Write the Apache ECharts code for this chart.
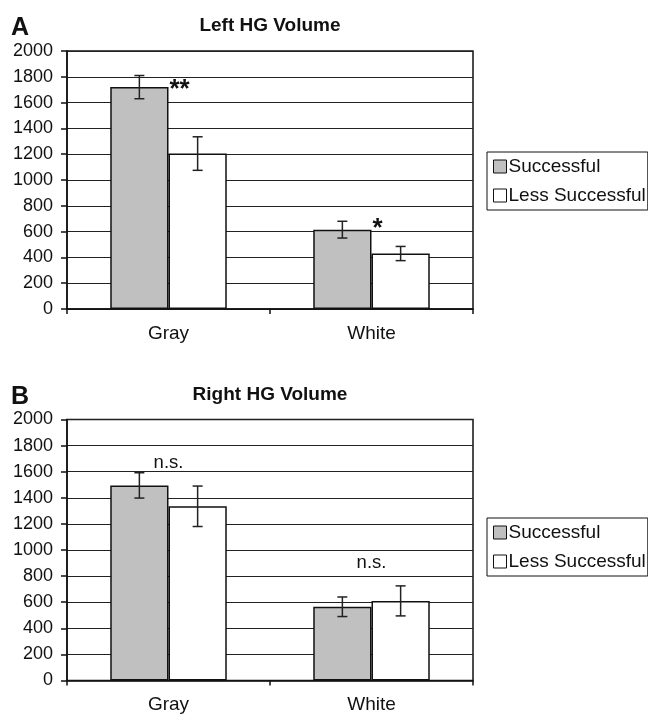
<!DOCTYPE html>
<html>
<head>
<meta charset="utf-8">
<script src="https://cdn.jsdelivr.net/npm/echarts@6/dist/echarts.min.js"></script>
<style>
html,body{margin:0;padding:0;background:#fff;}
#chart{width:648px;height:715px;}
</style>
</head>
<body>
<div id="chart"></div>
<script>
const categories = ['Gray', 'White'];
const seriesNames = ['Successful', 'Less Successful'];

const leftSuccessful = [1720, 615];
const leftLess = [1205, 430];
const leftSuccessfulErr = [90, 65];
const leftLessErr = [130, 55];
const leftSig = ['**', '*'];
const leftSigLevel = [1702, 625];

const rightSuccessful = [1495, 565];
const rightLess = [1335, 610];
const rightSuccessfulErr = [97, 75];
const rightLessErr = [155, 115];
const rightSig = ['n.s.', 'n.s.'];
const rightSigLevel = [1670, 900];

const yMin = 0, yMax = 2000, yStep = 200;

const FONT = '"Liberation Sans", Arial, sans-serif';
const CAT_GAP = 0.426;

function errSeries(gridIdx, means, errs, sign, name) {
  return {
    type: 'custom', name: name, xAxisIndex: gridIdx, yAxisIndex: gridIdx,
    silent: true, z: 10,
    data: means.map((m, i) => [i, m, errs[i]]),
    renderItem: function (params, api) {
      const ci = api.value(0), m = api.value(1), e = api.value(2);
      const bw = api.size([1, 0])[0] * (1 - CAT_GAP) / 2;
      const c = api.coord([ci, m]);
      const x = c[0] + sign * bw / 2;
      const yt = api.coord([ci, m + e])[1];
      const yb = api.coord([ci, m - e])[1];
      const cap = 5;
      const st = { stroke: '#222', lineWidth: 1.5 };
      return { type: 'group', children: [
        { type: 'line', shape: { x1: x, y1: yt, x2: x, y2: yb }, style: st },
        { type: 'line', shape: { x1: x - cap, y1: yt, x2: x + cap, y2: yt }, style: st },
        { type: 'line', shape: { x1: x - cap, y1: yb, x2: x + cap, y2: yb }, style: st }
      ]};
    }
  };
}

function sigSeries(gridIdx, texts, levels, mode) {
  return {
    type: 'custom', name: 'sig' + gridIdx, xAxisIndex: gridIdx, yAxisIndex: gridIdx,
    silent: true, z: 11,
    data: levels.map((v, i) => [i, v]),
    renderItem: function (params, api) {
      const ci = api.value(0), v = api.value(1);
      const c = api.coord([ci, v]);
      const t = texts[params.dataIndex];
      if (mode === 'right') {
        return { type: 'text', style: { x: c[0] + 1, y: c[1], text: t, fill: '#111',
          font: 'bold 26px ' + FONT, textAlign: 'left', textVerticalAlign: 'middle' } };
      }
      return { type: 'text', style: { x: c[0], y: c[1], text: t, fill: '#111',
        font: '18.5px ' + FONT, textAlign: 'center', textVerticalAlign: 'middle' } };
    }
  };
}

function barSeries(gridIdx, name, data, color) {
  return {
    type: 'bar', name: name, xAxisIndex: gridIdx, yAxisIndex: gridIdx,
    data: data, barGap: '0%', barCategoryGap: (CAT_GAP * 100) + '%',
    itemStyle: { color: color, borderColor: '#111', borderWidth: 1.5 },
    emphasis: { disabled: true }
  };
}

function xAxis(gridIdx) {
  return {
    type: 'category', gridIndex: gridIdx, data: categories,
    axisLine: { lineStyle: { color: '#111', width: 1.5 } },
    axisTick: { show: true, length: 5, lineStyle: { color: '#111', width: 1.5 } },
    axisLabel: { color: '#111', fontSize: 19, fontFamily: FONT, margin: 15 },
    splitLine: { show: false }
  };
}
function yAxis(gridIdx) {
  return {
    type: 'value', gridIndex: gridIdx, min: yMin, max: yMax, interval: yStep,
    axisLine: { show: true, lineStyle: { color: '#111', width: 1.5 } },
    axisTick: { show: true, length: 6, lineStyle: { color: '#111', width: 1.5 } },
    axisLabel: { color: '#111', fontSize: 18, fontFamily: FONT, margin: 14,
      formatter: function (v) { return String(v); } },
    splitLine: { show: true, lineStyle: { color: '#222', width: 1.2 } }
  };
}
function legend(top) {
  return {
    orient: 'vertical', left: 487, top: top, data: seriesNames,
    icon: 'rect', itemWidth: 13, itemHeight: 13, itemGap: 10,
    padding: [5, 2, 5, 6],
    borderColor: '#111', borderWidth: 1, borderRadius: 0,
    selectedMode: false,
    itemStyle: { borderColor: '#111', borderWidth: 1 },
    textStyle: { color: '#111', fontSize: 19, fontFamily: FONT, padding: [0, 0, 0, -3] }
  };
}

const chart = echarts.init(document.getElementById('chart'), null, { renderer: 'canvas' });
chart.setOption({
  backgroundColor: '#fff',
  animation: false,
  textStyle: { fontFamily: FONT },
  graphic: [
    { type: 'text', style: { x: 11, y: 28, text: 'A', font: 'bold 25px ' + FONT, fill: '#111', textVerticalAlign: 'middle' } },
    { type: 'text', style: { x: 270, y: 26, text: 'Left HG Volume', font: 'bold 19px ' + FONT, fill: '#111', textAlign: 'center', textVerticalAlign: 'middle' } },
    { type: 'text', style: { x: 11, y: 397, text: 'B', font: 'bold 25px ' + FONT, fill: '#111', textVerticalAlign: 'middle' } },
    { type: 'text', style: { x: 270, y: 395, text: 'Right HG Volume', font: 'bold 19px ' + FONT, fill: '#111', textAlign: 'center', textVerticalAlign: 'middle' } }
  ],
  grid: [
    { left: 67, right: 175, top: 51, height: 258, show: true, borderColor: '#111', borderWidth: 1.5, backgroundColor: 'transparent' },
    { left: 67, right: 175, top: 419.5, height: 261, show: true, borderColor: '#111', borderWidth: 1.5, backgroundColor: 'transparent' }
  ],
  legend: [legend(152), legend(518)],
  xAxis: [xAxis(0), xAxis(1)],
  yAxis: [yAxis(0), yAxis(1)],
  series: [
    barSeries(0, seriesNames[0], leftSuccessful, '#c0c0c0'),
    barSeries(0, seriesNames[1], leftLess, '#ffffff'),
    barSeries(1, seriesNames[0], rightSuccessful, '#c0c0c0'),
    barSeries(1, seriesNames[1], rightLess, '#ffffff'),
    errSeries(0, leftSuccessful, leftSuccessfulErr, -1, 'errA1'),
    errSeries(0, leftLess, leftLessErr, 1, 'errA2'),
    errSeries(1, rightSuccessful, rightSuccessfulErr, -1, 'errB1'),
    errSeries(1, rightLess, rightLessErr, 1, 'errB2'),
    sigSeries(0, leftSig, leftSigLevel, 'right'),
    sigSeries(1, rightSig, rightSigLevel, 'center')
  ]
});
</script>
</body>
</html>
